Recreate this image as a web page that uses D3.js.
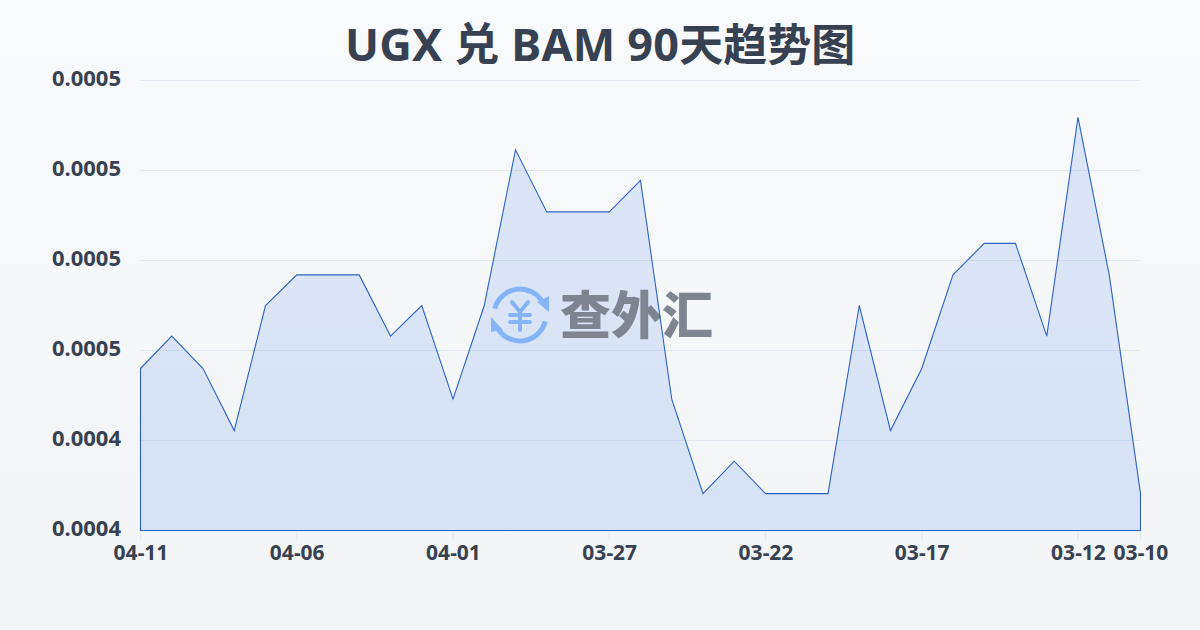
<!DOCTYPE html>
<html><head><meta charset="utf-8">
<script src="https://cdnjs.cloudflare.com/ajax/libs/d3/7.8.5/d3.min.js"></script>
<style>html,body{margin:0;padding:0;background:#f8fafc}svg{display:block}</style>
</head><body><svg id="c" width="1200" height="630"></svg>
<script>
const titleLatin = "UGX 兑 BAM 90";
const titleCjk = "天趋势图";
const dates = ["04-11","04-10","04-09","04-08","04-07","04-06","04-05","04-04","04-03","04-02","04-01","03-31","03-30","03-29","03-28","03-27","03-26","03-25","03-24","03-23","03-22","03-21","03-20","03-19","03-18","03-17","03-16","03-15","03-14","03-13","03-12","03-11","03-10"];
const rates = [0.000448,0.0004516,0.000448,0.0004411,0.000455,0.0004584,0.0004584,0.0004584,0.0004516,0.000455,0.0004446,0.000455,0.0004723,0.0004654,0.0004654,0.0004654,0.0004689,0.0004446,0.0004341,0.0004377,0.0004341,0.0004341,0.0004341,0.000455,0.0004411,0.000448,0.0004584,0.0004619,0.0004619,0.0004516,0.0004759,0.0004584,0.0004341];
const yTicks = [0.00043,0.00044,0.00045,0.00046,0.00047,0.00048];
const yTickLabels = ["0.0004","0.0004","0.0005","0.0005","0.0005","0.0005"];
const xTickLabels = ["04-11","04-06","04-01","03-27","03-22","03-17","03-12","03-10"];
const font = '"Noto Sans","Noto Sans CJK SC",sans-serif';
const svg = d3.select("#c");
const defs = svg.append("defs");
const bg = defs.append("linearGradient").attr("id","bg").attr("x1",0).attr("y1",0).attr("x2",0).attr("y2",1);
bg.append("stop").attr("offset",0).attr("stop-color","#f8fafc");
bg.append("stop").attr("offset",1).attr("stop-color","#f2f4f6");
svg.append("rect").attr("width",1200).attr("height",630).attr("fill","url(#bg)");

const x = d3.scalePoint().domain(dates).range([140,1140]);
const y = d3.scaleLinear().domain([0.00043,0.00048]).range([530,80]);

const title = svg.append("text").attr("x",345).attr("y",61)
  .attr("font-family",font).attr("font-weight",700).attr("font-size",45).attr("fill","#374151");
title.append("tspan").attr("letter-spacing",0.2).text(titleLatin);
title.append("tspan").attr("font-size",44).text(titleCjk);

const yAxis = svg.append("g").attr("transform","translate(140,0)")
  .call(d3.axisLeft(y).tickValues(yTicks).tickSize(0).tickPadding(19).tickFormat((d,i)=>yTickLabels[i]));
yAxis.select(".domain").remove();
yAxis.selectAll("text").attr("font-family",font).attr("font-weight",700).attr("font-size",22).attr("dy","0.27em").attr("fill","#374151");
const grid = svg.append("g").attr("transform","translate(140,0)")
  .call(d3.axisLeft(y).tickValues(yTicks).tickSize(-1000).tickFormat(""));
grid.select(".domain").remove();
grid.selectAll("line").attr("stroke","#e2e8f0").attr("stroke-width",1);

const xAxis = svg.append("g").attr("transform","translate(0,530)")
  .call(d3.axisBottom(x).tickValues(xTickLabels).tickSize(10).tickPadding(5));
xAxis.select(".domain").remove();
xAxis.selectAll("line").attr("stroke","#e2e8f0");
xAxis.selectAll("text").attr("font-family",font).attr("font-weight",700).attr("font-size",21).attr("dx",0.5).attr("fill","#374151");

const area = d3.area().x(d=>x(d.date)+0.5).y0(y(0.00043)+0.5).y1(d=>y(d.rate)+0.5);
const pts = dates.map((date,i)=>({date,rate:rates[i]}));
svg.append("path").datum(pts).attr("d",area).attr("fill","#2563eb").attr("fill-opacity",0.13);

// watermark
const wm = svg.append("g");
const wb = wm.append("g").attr("transform","translate(520,315)").attr("fill","none").attr("stroke","#86b4f8").attr("stroke-linecap","round");
const ring = d3.arc().innerRadius(26).outerRadius(26);
wb.append("path").attr("stroke-width",5).attr("d",ring({startAngle:-1.32,endAngle:1.06}));
wb.append("path").attr("stroke-width",5).attr("d",ring({startAngle:1.82,endAngle:4.14}));
wb.append("path").attr("stroke","none").attr("fill","#86b4f8").attr("d",d3.line()([[17,-13],[29,-19],[29,-3]]));
wb.append("path").attr("stroke","none").attr("fill","#86b4f8").attr("d",d3.line()([[-29,2],[-29,17],[-17,15]]));
wb.append("path").attr("stroke-width",4).attr("d","M-8,-13L0,-3L8,-13M-10,0H10M-10,7H10M0,-3V15");
wm.append("text").attr("x",560).attr("y",334).attr("font-family",'"Noto Sans CJK SC",sans-serif').attr("font-weight",900)
  .attr("font-size",51).attr("fill","#7f8491").text("查外汇");

svg.append("path").datum(pts).attr("d",area).attr("fill","none")
  .attr("stroke","#2f62c8").attr("stroke-width",1.1);
</script></body></html>
